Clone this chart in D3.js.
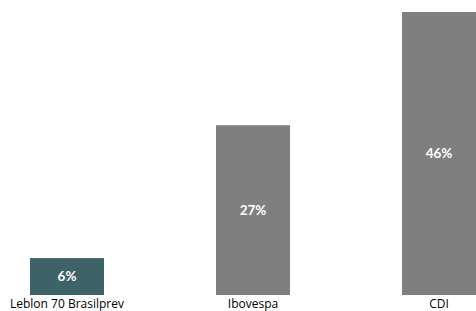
<!DOCTYPE html>
<html>
<head>
<meta charset="utf-8">
<script src="https://cdn.jsdelivr.net/npm/d3@7"></script>
<style>
  html, body { margin: 0; padding: 0; background: #fff; }
  svg { display: block; }
</style>
</head>
<body>
<script>
const categories = ["Leblon 70 Brasilprev", "Ibovespa", "CDI"];
const values = [6.0, 27.6, 46.0];
const valueLabels = ["6%", "27%", "46%"];
const colors = ["#3d6267", "#7f7f7f", "#7f7f7f"];

const W = 476, H = 311;
const svg = d3.select("body").append("svg").attr("width", W).attr("height", H);

const x = d3.scaleBand().domain(categories).range([-26, 532])
  .paddingInner(0.602).paddingOuter(0.301);
const y = d3.scaleLinear().domain([0, d3.max(values)]).range([295, 12]);

const data = categories.map((c, i) => ({ c, v: values[i], label: valueLabels[i], color: colors[i] }));

svg.selectAll("rect.bar").data(data).join("rect")
  .attr("class", "bar")
  .attr("x", d => x(d.c))
  .attr("width", x.bandwidth())
  .attr("y", d => y(d.v))
  .attr("height", d => y(0) - y(d.v))
  .attr("fill", d => d.color);

svg.selectAll("text.val").data(data).join("text")
  .attr("class", "val")
  .attr("x", d => x(d.c) + x.bandwidth() / 2)
  .attr("y", d => (y(d.v) + y(0)) / 2)
  .attr("dy", "0.35em")
  .attr("text-anchor", "middle")
  .attr("fill", "#ffffff")
  .attr("font-family", "Lato, 'Open Sans', sans-serif")
  .attr("font-weight", "bold")
  .attr("font-size", "13.5px")
  .text(d => d.label);

const axis = d3.axisBottom(x).tickSize(0).tickPadding(0);
const g = svg.append("g").attr("transform", `translate(0, ${y(0)})`).call(axis);
g.select(".domain").remove();
g.selectAll("text")
  .attr("y", 12.5)
  .attr("dy", 0)
  .attr("fill", "#000")
  .attr("font-family", "'Open Sans', sans-serif")
  .attr("font-size", "12px");
</script>
</body>
</html>
